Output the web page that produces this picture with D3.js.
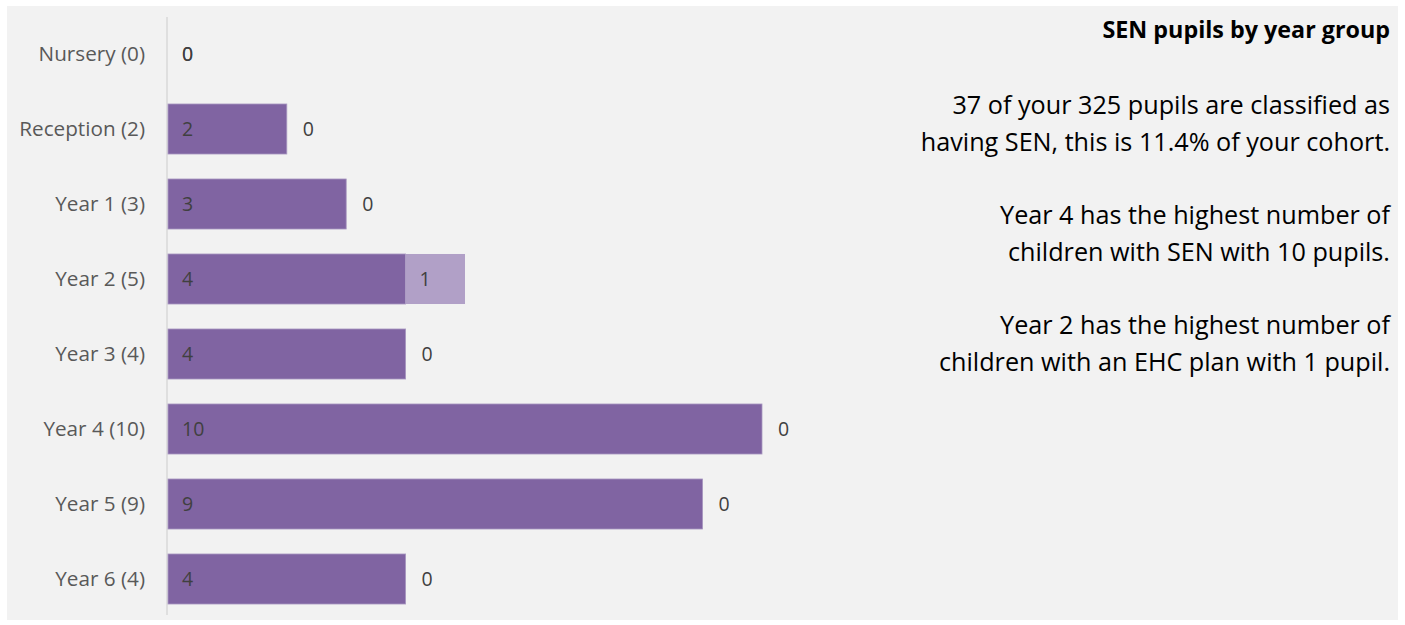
<!DOCTYPE html>
<html>
<head>
<meta charset="utf-8">
<script src="https://cdn.jsdelivr.net/npm/d3@7"></script>
<style>
  body { margin: 0; background: #ffffff; }
  svg { display: block; font-family: "Open Sans", sans-serif; }
</style>
</head>
<body>
<svg id="chart" width="1405" height="625"></svg>
<script>
// Year groups and counts
const yearGroups = ['Nursery', 'Reception', 'Year 1', 'Year 2', 'Year 3', 'Year 4', 'Year 5', 'Year 6'];
const senValues = [0, 2, 3, 4, 4, 10, 9, 4];
const ehcValues = [0, 0, 0, 1, 0, 0, 0, 0];

const titleText = 'SEN pupils by year group';
const summaryLines = [
  '37 of your 325 pupils are classified as',
  'having SEN, this is 11.4% of your cohort.',
  '',
  'Year 4 has the highest number of',
  'children with SEN with 10 pupils.',
  '',
  'Year 2 has the highest number of',
  'children with an EHC plan with 1 pupil.'
];

const svg = d3.select('#chart');

// Grey panel
svg.append('rect')
  .attr('x', 7).attr('y', 6)
  .attr('width', 1391).attr('height', 614)
  .attr('fill', '#f2f2f2');

const x = d3.scaleLinear().domain([0, 10]).range([168, 762]);
const y = d3.scaleBand().domain(yearGroups).range([16.5, 616.5]).paddingInner(0.333).paddingOuter(0.1665);

const rows = yearGroups.map((g, i) => ({
  group: g,
  sen: senValues[i],
  ehc: ehcValues[i],
  label: `${g} (${senValues[i] + ehcValues[i]})`
}));

// Category axis line
svg.append('line')
  .attr('x1', 167).attr('x2', 167)
  .attr('y1', 17).attr('y2', 615)
  .attr('stroke', '#d9d9d9').attr('stroke-width', 1.5);

// Category labels
svg.append('g').selectAll('text')
  .data(rows)
  .join('text')
  .attr('x', 145)
  .attr('y', d => y(d.group) + y.bandwidth() / 2)
  .attr('dy', '0.35em')
  .attr('text-anchor', 'end')
  .attr('font-size', 20.7)
  .attr('fill', '#595959')
  .text(d => d.label);

// SEN bars
svg.append('g').selectAll('rect')
  .data(rows.filter(d => d.sen > 0))
  .join('rect')
  .attr('x', x(0))
  .attr('y', d => y(d.group))
  .attr('width', d => x(d.sen) - x(0))
  .attr('height', y.bandwidth())
  .attr('fill', '#8064a2')
  .attr('stroke', '#a898c0')
  .attr('stroke-width', 0.8);

// EHC bars
svg.append('g').selectAll('rect')
  .data(rows.filter(d => d.ehc > 0))
  .join('rect')
  .attr('x', d => x(d.sen))
  .attr('y', d => y(d.group))
  .attr('width', d => x(d.sen + d.ehc) - x(d.sen))
  .attr('height', y.bandwidth())
  .attr('fill', '#b1a0c7');

// SEN labels (inside base)
svg.append('g').selectAll('text')
  .data(rows)
  .join('text')
  .attr('x', x(0) + 14)
  .attr('y', d => y(d.group) + y.bandwidth() / 2)
  .attr('dy', '0.35em')
  .attr('font-size', 19.5)
  .attr('fill', '#404040')
  .text(d => d.sen);

// EHC labels (at base of the EHC segment)
svg.append('g').selectAll('text')
  .data(rows)
  .join('text')
  .attr('x', d => x(d.sen) + (d.ehc > 0 ? 14 : 16) + (d.sen === 0 ? -2 : 0))
  .attr('y', d => y(d.group) + y.bandwidth() / 2)
  .attr('dy', '0.35em')
  .attr('font-size', 19.5)
  .attr('fill', '#404040')
  .text(d => d.ehc);

// Right-hand text
svg.append('text')
  .attr('x', 1390).attr('y', 38)
  .attr('text-anchor', 'end')
  .attr('font-size', 23.3)
  .attr('font-weight', 'bold')
  .attr('fill', '#000')
  .text(titleText);

svg.append('g').selectAll('text')
  .data(summaryLines)
  .join('text')
  .attr('x', 1390)
  .attr('y', (d, i) => 114 + i * 36.7)
  .attr('text-anchor', 'end')
  .attr('font-size', 25.2)
  .attr('fill', '#000')
  .text(d => d);
</script>
</body>
</html>
